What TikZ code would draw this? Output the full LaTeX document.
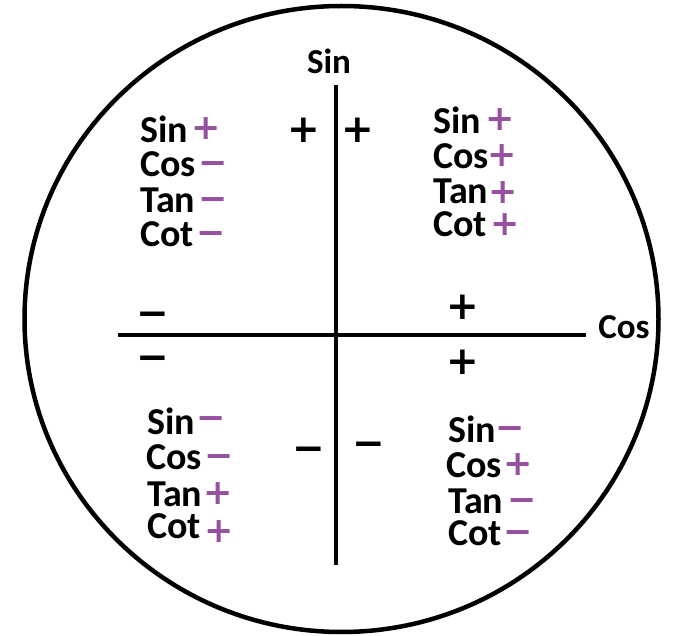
\documentclass[tikz,border=0pt]{standalone}
\usepackage{fontspec}
\setmainfont{Carlito}
\newfontfamily\signfont{DejaVu Sans}
\definecolor{signpurple}{RGB}{150,82,160}
\newcommand{\pl}{\vphantom{+}+}
\newcommand{\mi}{\vphantom{+}−}
\begin{document}
\begin{tikzpicture}[x=1pt,y=-1pt,
  word/.style={anchor=west, inner sep=0pt, font=\fontsize{38}{38}\selectfont\bfseries},
  axlabel/.style={inner sep=0pt, font=\fontsize{35}{35}\selectfont\bfseries},
  psign/.style={inner sep=0pt, text=signpurple, font=\fontsize{35}{35}\signfont\bfseries},
  bsign/.style={inner sep=0pt, font=\fontsize{39}{39}\signfont\bfseries},
  axis/.style={line width=4pt}]
\useasboundingbox (0,0) rectangle (673,636);
\draw[line width=4.5pt] (341.5,319) ellipse [x radius=317, y radius=313];
% axes
\coordinate (vtop) at (336,85);
\coordinate (vbot) at (336,565);
\coordinate (hleft) at (118,335);
\coordinate (hright) at (586,335);
\draw[axis] (vtop) -- (vbot);
\draw[axis] (hleft) -- (hright);
\node[axlabel] (sinlab) at (329,61) {Sin};
\node[axlabel] (coslab) at (624,327) {Cos};
% black signs
\node[bsign] (p1) at (304,130) {\pl};
\node[bsign] (p2) at (358,130) {\pl};
\node[bsign] (p3) at (463,307) {\pl};
\node[bsign] (p4) at (463,362) {\pl};
\node[bsign] (m1) at (153,314) {\mi};
\node[bsign] (m2) at (153,358) {\mi};
\node[bsign] (m3) at (309,449) {\mi};
\node[bsign] (m4) at (369,444) {\mi};
% top-left block
\node[word] (tls) at (140,129) {Sin};
\node[word] (tlc) at (140,164) {Cos};
\node[word] (tlt) at (140,200) {Tan};
\node[word] (tlk) at (140,234) {Cot};
\node[psign] (tls1) at (206,129) {\pl};
\node[psign] (tlc1) at (213,164) {\mi};
\node[psign] (tlt1) at (213,200) {\mi};
\node[psign] (tlk1) at (211,234) {\mi};
% top-right block
\node[word] (trs) at (433,120) {Sin};
\node[word] (trc) at (433,156) {Cos};
\node[word] (trt) at (433,191) {Tan};
\node[word] (trk) at (433,224) {Cot};
\node[psign] (trs1) at (500,120) {\pl};
\node[psign] (trc1) at (502,156) {\pl};
\node[psign] (trt1) at (503,193) {\pl};
\node[psign] (trk1) at (505,225) {\pl};
% bottom-left block
\node[word] (bls) at (147,421) {Sin};
\node[word] (blc) at (146,457) {Cos};
\node[word] (blt) at (147,494) {Tan};
\node[word] (blk) at (147,526) {Cot};
\node[psign] (bls1) at (211,419) {\mi};
\node[psign] (blc1) at (219,457) {\mi};
\node[psign] (blt1) at (218,494) {\pl};
\node[psign] (blk1) at (219,532) {\pl};
% bottom-right block
\node[word] (brs) at (448,429) {Sin};
\node[word] (brc) at (446,465) {Cos};
\node[word] (brt) at (448,501) {Tan};
\node[word] (brk) at (448,533) {Cot};
\node[psign] (brs1) at (510,429) {\mi};
\node[psign] (brc1) at (518,465) {\pl};
\node[psign] (brt1) at (522,501) {\mi};
\node[psign] (brk1) at (518,533) {\mi};
\end{tikzpicture}
\end{document}
